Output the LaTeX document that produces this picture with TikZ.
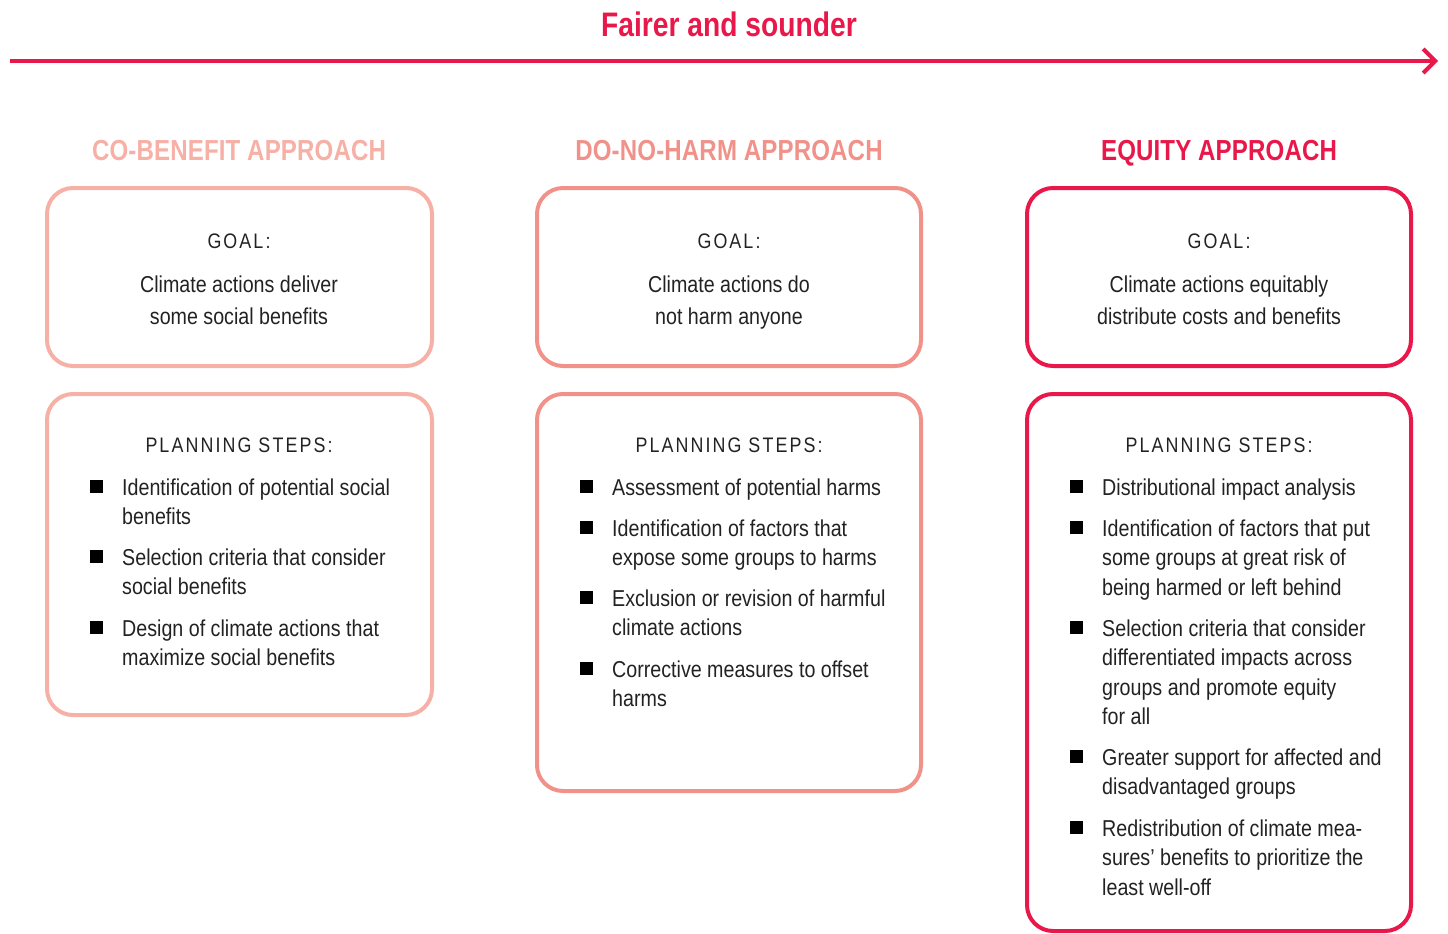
\documentclass[tikz,border=0pt]{standalone}
\usepackage{fontspec}
\setmainfont{Liberation Sans}[FakeStretch=0.855]
\newfontfamily\spacedfont{Liberation Sans}[FakeStretch=0.85,LetterSpace=10]
\newfontfamily\headfont{Liberation Sans}[FakeStretch=0.83,LetterSpace=0.5]
\usetikzlibrary{arrows.meta}
\definecolor{cobenefit}{HTML}{F7B0A6}
\definecolor{donoharm}{HTML}{F1928A}
\definecolor{equity}{HTML}{E8194A}
\definecolor{bodytext}{HTML}{222222}
\tikzset{
  panel/.style={draw=#1, line width=4pt, rounded corners=26pt},
  heading/.style={anchor=base, text=#1, font={\headfont\fontsize{29}{34}\selectfont\bfseries}},
  label/.style={anchor=base, text=bodytext, font={\spacedfont\fontsize{21}{26}\selectfont}},
  goaltext/.style={anchor=north, yshift=16.4pt, text=bodytext, align=center, inner sep=0pt,
    font={\fontsize{23}{32}\selectfont}, execute at begin node=\strut},
  item/.style={anchor=north west, yshift=16.65pt, text=bodytext, align=left, inner sep=0pt,
    font={\fontsize{23}{29.5}\selectfont}, execute at begin node=\strut},
  oneline/.style={item, yshift=4pt},
  bullet/.style={fill=black, minimum size=13pt, inner sep=0pt},
}
\begin{document}
\begin{tikzpicture}[x=1pt,y=-1pt]
\useasboundingbox (0,0) rectangle (1448,934);

% direction arrow
\node (title) [anchor=base, text=equity, font={\fontsize{34}{40}\fontspec{Liberation Sans}[FakeStretch=0.83]\bfseries}] at (729,37) {Fairer and sounder};
\coordinate (arrowstart) at (10,61);
\coordinate (arrowend) at (1438,61);
\draw[equity, line width=4pt, -{Straight Barb[length=12pt,width=24pt,line width=4pt]}] (arrowstart) -- (arrowend);

% column headings
\node (h1) [heading=cobenefit] at (239,160) {CO-BENEFIT APPROACH};
\node (h2) [heading=donoharm] at (729,160) {DO-NO-HARM APPROACH};
\node (h3) [heading=equity] at (1219,160) {EQUITY APPROACH};

% panels
\draw[panel=cobenefit] (47,188) rectangle (432,366);
\draw[panel=cobenefit] (47,394) rectangle (432,715);
\draw[panel=donoharm] (537,188) rectangle (921,366);
\draw[panel=donoharm] (537,394) rectangle (921,791);
\draw[panel=equity] (1027,188) rectangle (1411,366);
\draw[panel=equity] (1027,394) rectangle (1411,931);

% goals
\node (g1) [label] at (239,248) {GOAL:};
\node (g2) [label] at (729,248) {GOAL:};
\node (g3) [label] at (1219,248) {GOAL:};
\node (gt1) [goaltext] at (239,292) {Climate actions deliver\\some social benefits};
\node (gt2) [goaltext] at (729,292) {Climate actions do\\not harm anyone};
\node (gt3) [goaltext] at (1219,292) {Climate actions equitably\\distribute costs and benefits};

% planning steps
\node (p1) [label] at (239,452) {PLANNING STEPS:};
\node (p2) [label] at (729,452) {PLANNING STEPS:};
\node (p3) [label] at (1219,452) {PLANNING STEPS:};

% co-benefit steps
\node (b11) [bullet] at (96,486) {};
\node (t11) [item] at (122,495) {Identification of potential social\\benefits};
\node (b12) [bullet] at (96,556) {};
\node (t12) [item] at (122,565) {Selection criteria that consider\\social benefits};
\node (b13) [bullet] at (96,627) {};
\node (t13) [item] at (122,636) {Design of climate actions that\\maximize social benefits};

% do-no-harm steps
\node (b21) [bullet] at (586,486) {};
\node (t21) [oneline] at (612,495) {Assessment of potential harms};
\node (b22) [bullet] at (586,527) {};
\node (t22) [item] at (612,536) {Identification of factors that\\expose some groups to harms};
\node (b23) [bullet] at (586,597) {};
\node (t23) [item] at (612,606) {Exclusion or revision of harmful\\climate actions};
\node (b24) [bullet] at (586,668) {};
\node (t24) [item] at (612,677) {Corrective measures to offset\\harms};

% equity steps
\node (b31) [bullet] at (1076,486) {};
\node (t31) [oneline] at (1102,495) {Distributional impact analysis};
\node (b32) [bullet] at (1076,527) {};
\node (t32) [item] at (1102,536) {Identification of factors that put\\some groups at great risk of\\being harmed or left behind};
\node (b33) [bullet] at (1076,627) {};
\node (t33) [item] at (1102,636) {Selection criteria that consider\\differentiated impacts across\\groups and promote equity\\for all};
\node (b34) [bullet] at (1076,756) {};
\node (t34) [item] at (1102,765) {Greater support for affected and\\disadvantaged groups};
\node (b35) [bullet] at (1076,827) {};
\node (t35) [item] at (1102,836) {Redistribution of climate mea-\\sures' benefits to prioritize the\\least well-off};
\end{tikzpicture}
\end{document}
